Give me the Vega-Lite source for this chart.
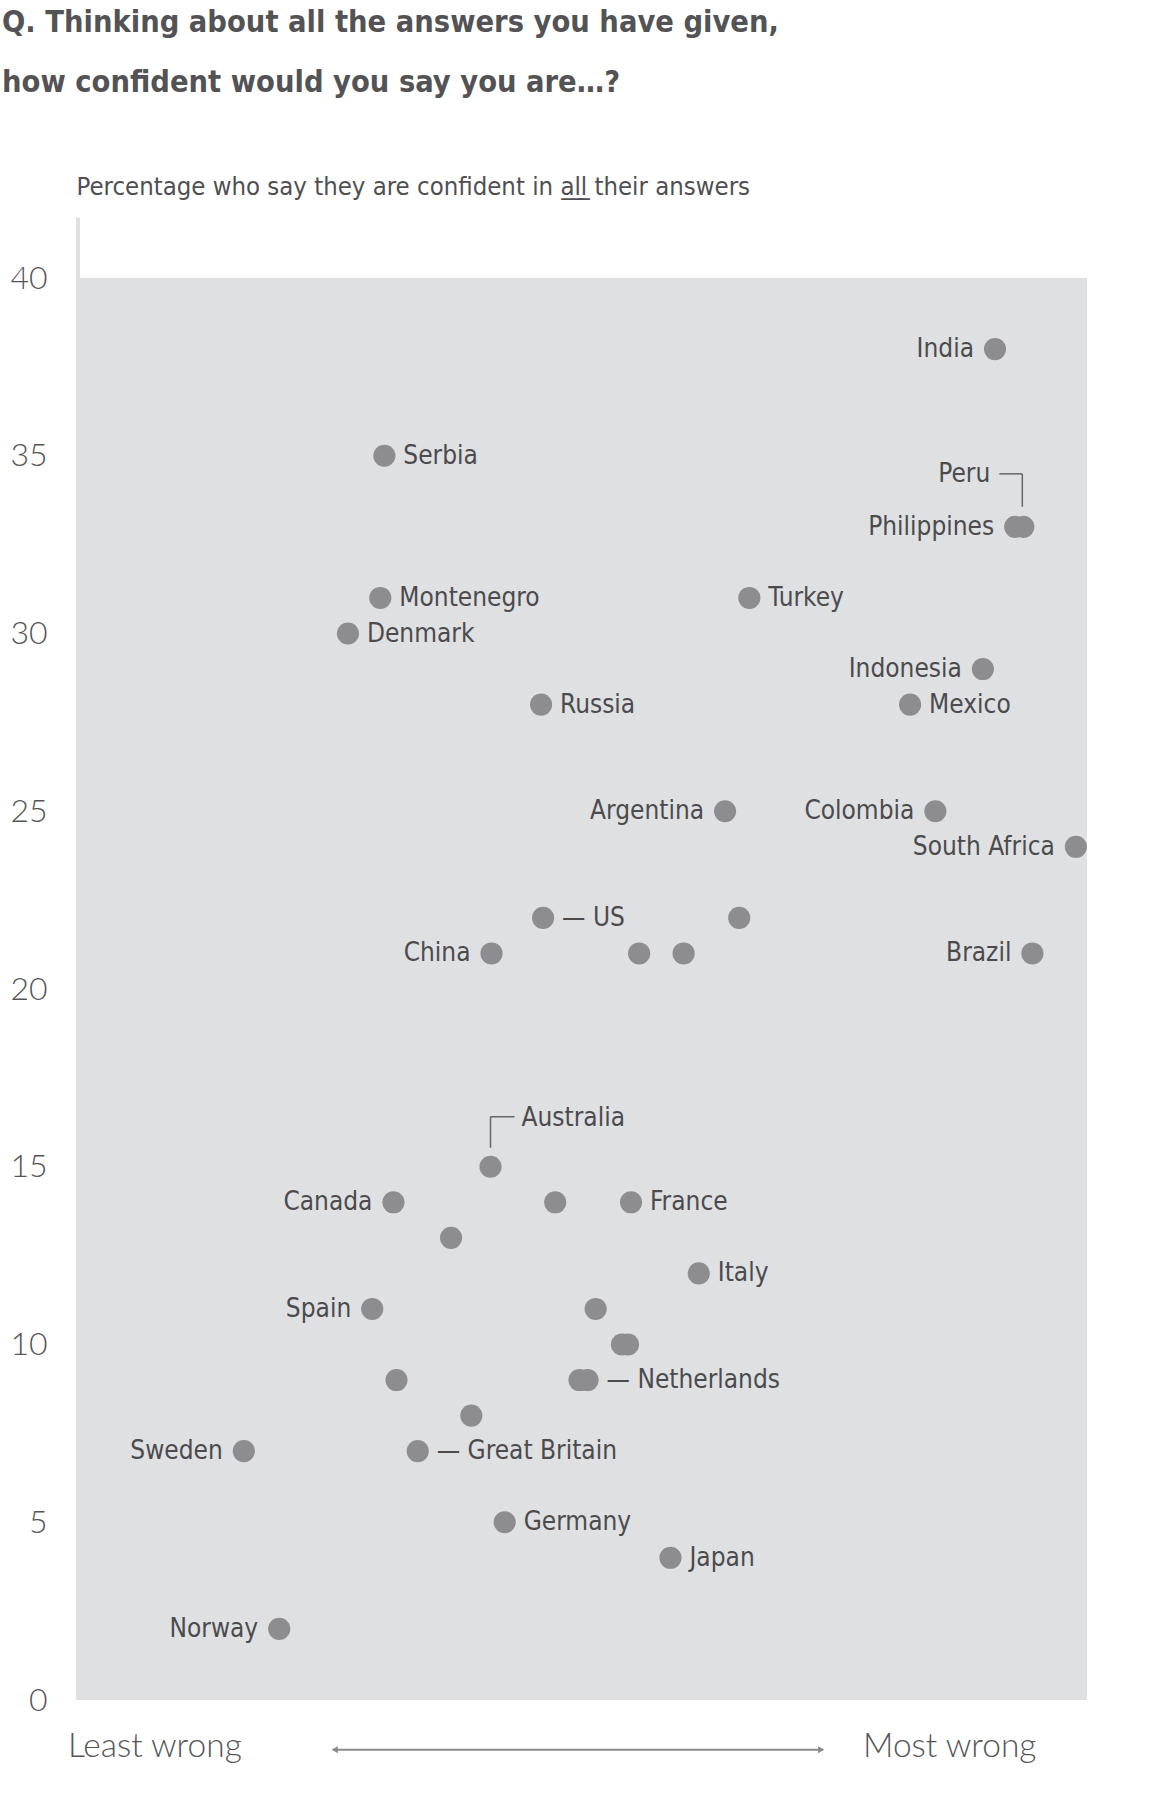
{
  "$schema": "https://vega.github.io/schema/vega-lite/v6.json",
  "width": 1011,
  "height": 1422,
  "autosize": "none",
  "padding": {"left": 76, "top": 278, "right": 65, "bottom": 100},
  "background": "white",
  "title": {
    "text": ["Q. Thinking about all the answers you have given,", "how confident would you say you are…?"],
    "anchor": "start",
    "frame": "group",
    "dx": -74,
    "offset": 76,
    "font": "DejaVu Sans Condensed, sans-serif",
    "fontWeight": "bold",
    "fontSize": 30.5,
    "lineHeight": 60,
    "color": "#535356"
  },
  "config": {
    "view": {"fill": "#dfe0e2", "stroke": null},
    "text": {"font": "DejaVu Sans Condensed, sans-serif", "fontSize": 26, "color": "#4b4b4e", "baseline": "middle"}
  },
  "datasets": {
    "countries": [
      {"country": "India", "score": 90.9, "pct": 38, "side": "left", "label": "India"},
      {"country": "Serbia", "score": 30.5, "pct": 35, "side": "right", "label": "Serbia"},
      {"country": "Peru", "score": 93.7, "pct": 33, "side": "peru", "label": "Peru"},
      {"country": "Philippines", "score": 92.9, "pct": 33, "side": "left", "label": "Philippines"},
      {"country": "Montenegro", "score": 30.1, "pct": 31, "side": "right", "label": "Montenegro"},
      {"country": "Denmark", "score": 26.9, "pct": 30, "side": "right", "label": "Denmark"},
      {"country": "Turkey", "score": 66.6, "pct": 31, "side": "right", "label": "Turkey"},
      {"country": "Indonesia", "score": 89.7, "pct": 29, "side": "left", "label": "Indonesia"},
      {"country": "Mexico", "score": 82.5, "pct": 28, "side": "right", "label": "Mexico"},
      {"country": "Russia", "score": 46.0, "pct": 28, "side": "right", "label": "Russia"},
      {"country": "Argentina", "score": 64.2, "pct": 25, "side": "left", "label": "Argentina"},
      {"country": "Colombia", "score": 85.0, "pct": 25, "side": "left", "label": "Colombia"},
      {"country": "South Africa", "score": 98.9, "pct": 24, "side": "left", "label": "South Africa"},
      {"country": "US", "score": 46.2, "pct": 22, "side": "right", "label": "— US"},
      {"country": "", "score": 65.6, "pct": 22, "side": "none", "label": ""},
      {"country": "China", "score": 41.1, "pct": 21, "side": "left", "label": "China"},
      {"country": "", "score": 55.7, "pct": 21, "side": "none", "label": ""},
      {"country": "", "score": 60.1, "pct": 21, "side": "none", "label": ""},
      {"country": "Brazil", "score": 94.6, "pct": 21, "side": "left", "label": "Brazil"},
      {"country": "Australia", "score": 41.0, "pct": 15, "side": "aus", "label": "Australia"},
      {"country": "Canada", "score": 31.4, "pct": 14, "side": "left", "label": "Canada"},
      {"country": "", "score": 47.4, "pct": 14, "side": "none", "label": ""},
      {"country": "France", "score": 54.9, "pct": 14, "side": "right", "label": "France"},
      {"country": "", "score": 37.1, "pct": 13, "side": "none", "label": ""},
      {"country": "Italy", "score": 61.6, "pct": 12, "side": "right", "label": "Italy"},
      {"country": "Spain", "score": 29.3, "pct": 11, "side": "left", "label": "Spain"},
      {"country": "", "score": 51.4, "pct": 11, "side": "none", "label": ""},
      {"country": "", "score": 54.0, "pct": 10, "side": "none", "label": ""},
      {"country": "", "score": 54.6, "pct": 10, "side": "none", "label": ""},
      {"country": "", "score": 31.7, "pct": 9, "side": "none", "label": ""},
      {"country": "", "score": 49.8, "pct": 9, "side": "none", "label": ""},
      {"country": "Netherlands", "score": 50.6, "pct": 9, "side": "right", "label": "— Netherlands"},
      {"country": "", "score": 39.1, "pct": 8, "side": "none", "label": ""},
      {"country": "Sweden", "score": 16.6, "pct": 7, "side": "left", "label": "Sweden"},
      {"country": "Great Britain", "score": 33.8, "pct": 7, "side": "right", "label": "— Great Britain"},
      {"country": "Germany", "score": 42.4, "pct": 5, "side": "right", "label": "Germany"},
      {"country": "Japan", "score": 58.8, "pct": 4, "side": "right", "label": "Japan"},
      {"country": "Norway", "score": 20.1, "pct": 2, "side": "left", "label": "Norway"}
    ]
  },
  "layer": [
    {
      "data": {"name": "countries"},
      "mark": {"type": "circle", "size": 490, "color": "#8d8d90", "opacity": 1},
      "encoding": {
        "x": {"field": "score", "type": "quantitative", "scale": {"domain": [0, 100], "nice": false, "zero": false}, "axis": null},
        "y": {
          "field": "pct",
          "type": "quantitative",
          "scale": {"domain": [0, 40], "nice": false},
          "axis": {
            "title": "Percentage who say they are confident in a\u0332l\u0332l\u0332 their answers",
            "titleAngle": 0,
            "titleX": 0,
            "titleY": -84,
            "titleAlign": "left",
            "titleBaseline": "alphabetic",
            "titleFont": "DejaVu Sans Condensed, sans-serif",
            "titleFontSize": 25.5,
            "titleFontWeight": "normal",
            "titleColor": "#4f4f52",
            "values": [0, 5, 10, 15, 20, 25, 30, 35, 40],
            "ticks": false,
            "domain": false,
            "grid": false,
            "labelFont": "Lato",
            "labelFontWeight": 300,
            "labelFontSize": 32,
            "labelColor": "#555558",
            "labelPadding": 29
          }
        }
      }
    },
    {
      "data": {"values": [{}]},
      "mark": {"type": "rule", "color": "#dfe0e2", "strokeWidth": 4, "xOffset": 2},
      "encoding": {"x": {"datum": 0}, "y": {"datum": 40}, "y2": {"datum": 41.7}}
    },
    {
      "data": {"name": "countries"},
      "transform": [{"filter": "datum.side === 'left'"}],
      "mark": {"type": "text", "align": "right", "dx": -21},
      "encoding": {"x": {"field": "score", "type": "quantitative"}, "y": {"field": "pct", "type": "quantitative"}, "text": {"field": "label"}}
    },
    {
      "data": {"name": "countries"},
      "transform": [{"filter": "datum.side === 'right'"}],
      "mark": {"type": "text", "align": "left", "dx": 19},
      "encoding": {"x": {"field": "score", "type": "quantitative"}, "y": {"field": "pct", "type": "quantitative"}, "text": {"field": "label"}}
    },
    {
      "data": {"name": "countries"},
      "transform": [{"filter": "datum.side === 'peru'"}],
      "mark": {"type": "text", "align": "right", "dx": -33, "dy": -53},
      "encoding": {"x": {"field": "score", "type": "quantitative"}, "y": {"field": "pct", "type": "quantitative"}, "text": {"field": "label"}}
    },
    {
      "data": {"name": "countries"},
      "transform": [{"filter": "datum.side === 'aus'"}],
      "mark": {"type": "text", "align": "left", "dx": 31, "dy": -49},
      "encoding": {"x": {"field": "score", "type": "quantitative"}, "y": {"field": "pct", "type": "quantitative"}, "text": {"field": "label"}}
    },
    {
      "data": {"name": "countries"},
      "transform": [{"filter": "datum.side === 'peru'"}],
      "mark": {"type": "rule", "color": "#66666a", "strokeWidth": 1.5, "xOffset": -24, "x2Offset": -1, "yOffset": -53},
      "encoding": {"x": {"field": "score", "type": "quantitative"}, "x2": {"field": "score"}, "y": {"field": "pct", "type": "quantitative"}}
    },
    {
      "data": {"name": "countries"},
      "transform": [{"filter": "datum.side === 'peru'"}],
      "mark": {"type": "rule", "color": "#66666a", "strokeWidth": 1.5, "xOffset": -1, "yOffset": -53, "y2Offset": -20},
      "encoding": {"x": {"field": "score", "type": "quantitative"}, "y": {"field": "pct", "type": "quantitative"}, "y2": {"field": "pct"}}
    },
    {
      "data": {"name": "countries"},
      "transform": [{"filter": "datum.side === 'aus'"}],
      "mark": {"type": "rule", "color": "#66666a", "strokeWidth": 1.5, "xOffset": 0, "x2Offset": 24, "yOffset": -50},
      "encoding": {"x": {"field": "score", "type": "quantitative"}, "x2": {"field": "score"}, "y": {"field": "pct", "type": "quantitative"}}
    },
    {
      "data": {"name": "countries"},
      "transform": [{"filter": "datum.side === 'aus'"}],
      "mark": {"type": "rule", "color": "#66666a", "strokeWidth": 1.5, "yOffset": -50, "y2Offset": -19},
      "encoding": {"x": {"field": "score", "type": "quantitative"}, "y": {"field": "pct", "type": "quantitative"}, "y2": {"field": "pct"}}
    },
    {
      "data": {"values": [{}]},
      "mark": {"type": "text", "text": "Least wrong", "align": "left", "font": "Lato", "fontWeight": 300, "fontSize": 33.5, "color": "#555558"},
      "encoding": {"x": {"datum": -0.8}, "y": {"datum": -1.32}}
    },
    {
      "data": {"values": [{}]},
      "mark": {"type": "text", "text": "Most wrong", "align": "right", "font": "Lato", "fontWeight": 300, "fontSize": 33.5, "color": "#555558"},
      "encoding": {"x": {"datum": 95.0}, "y": {"datum": -1.32}}
    },
    {
      "data": {"values": [{}]},
      "mark": {"type": "rule", "color": "#8a8a8d", "strokeWidth": 2},
      "encoding": {"x": {"datum": 25.4}, "x2": {"datum": 73.9}, "y": {"datum": -1.4}}
    },
    {
      "data": {"values": [{}]},
      "mark": {"type": "point", "shape": "triangle-left", "filled": true, "size": 50, "color": "#8a8a8d", "opacity": 1},
      "encoding": {"x": {"datum": 25.6}, "y": {"datum": -1.4}}
    },
    {
      "data": {"values": [{}]},
      "mark": {"type": "point", "shape": "triangle-right", "filled": true, "size": 50, "color": "#8a8a8d", "opacity": 1},
      "encoding": {"x": {"datum": 73.7}, "y": {"datum": -1.4}}
    }
  ]
}
